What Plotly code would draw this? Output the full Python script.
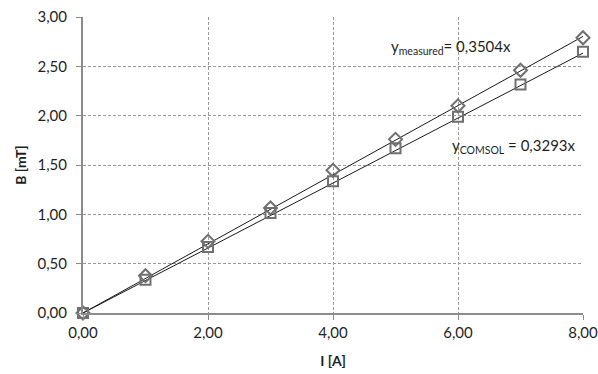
import plotly.graph_objects as go

current = [0, 1, 2, 3, 4, 5, 6, 7, 8]
b_measured = [0.00, 0.378, 0.726, 1.065, 1.446, 1.76, 2.10, 2.46, 2.79]
b_comsol = [0.00, 0.338, 0.669, 1.014, 1.335, 1.67, 1.99, 2.315, 2.647]
slope_measured = 0.3504
slope_comsol = 0.3293
fit_x = [0, 8]

FONT = "Lato"
GRAY = "#707070"
TXT = "#1f1f1f"

fig = go.Figure()
fig.add_trace(go.Scatter(x=fit_x, y=[slope_measured * v for v in fit_x], mode="lines",
                         line=dict(color="#1a1a1a", width=1), showlegend=False, cliponaxis=False))
fig.add_trace(go.Scatter(x=fit_x, y=[slope_comsol * v for v in fit_x], mode="lines",
                         line=dict(color="#1a1a1a", width=1), showlegend=False, cliponaxis=False))
fig.add_trace(go.Scatter(x=current, y=b_measured, mode="markers", cliponaxis=False,
                         marker=dict(symbol="diamond-open", size=10, color=GRAY, line=dict(width=2, color=GRAY)),
                         showlegend=False))
fig.add_trace(go.Scatter(x=current, y=b_comsol, mode="markers", cliponaxis=False,
                         marker=dict(symbol="square-open", size=10, color=GRAY, line=dict(width=2, color=GRAY)),
                         showlegend=False))

fig.add_annotation(x=5.89, y=2.70, xref="x", yref="y", showarrow=False,
                   text="y<sub>measured</sub>= 0,3504x", font=dict(family=FONT, size=15, color=TXT))
fig.add_annotation(x=6.9, y=1.69, xref="x", yref="y", showarrow=False,
                   text="y<sub>COMSOL</sub> = 0,3293x", font=dict(family=FONT, size=15, color=TXT))

axis_common = dict(
    showgrid=True, gridcolor="#9a9a9a", griddash="3px,2px", gridwidth=1,
    showline=True, linecolor="#8c8c8c", linewidth=2,
    ticks="outside", ticklen=5, tickcolor="#8c8c8c", tickwidth=1,
    tickfont=dict(family=FONT, size=15, color=TXT),
    tickformat=".2f", zeroline=False, automargin=False, ticklabeloverflow="allow",
)
fig.update_xaxes(range=[0, 8], tickvals=[0, 2, 4, 6, 8],
                 title=dict(text="I [A]", font=dict(family=FONT, size=14, color=TXT, weight=700), standoff=16),
                 **axis_common)
fig.update_yaxes(range=[0, 3], tickvals=[0, 0.5, 1, 1.5, 2, 2.5, 3],
                 title=dict(text="B [mT]", font=dict(family=FONT, size=14, color=TXT, weight=700), standoff=8),
                 ticklabelstandoff=6, **axis_common)

fig.update_layout(
    width=598, height=374, separators=",.",
    margin=dict(l=83, r=15, t=17, b=61),
    plot_bgcolor="white", paper_bgcolor="white",
)
fig.write_html("out.html")
